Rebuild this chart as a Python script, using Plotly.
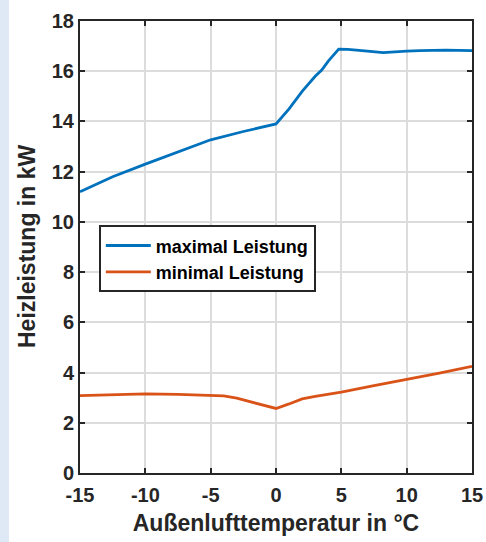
import plotly.graph_objects as go

# Data
temp_max = [-15, -12.5, -10, -7.5, -5, -2.5, 0, 1, 2, 3, 3.5, 4, 4.8, 5.5, 6, 7, 8.2, 9, 10, 11, 12, 13, 14, 15]
p_max = [11.2, 11.8, 12.3, 12.8, 13.27, 13.6, 13.9, 14.5, 15.2, 15.8, 16.05, 16.4, 16.88, 16.87, 16.84, 16.8, 16.74, 16.78, 16.8, 16.82, 16.84, 16.84, 16.83, 16.82]

temp_min = [-15, -12, -10, -7.5, -5, -4, -3, -2, -1, 0, 1, 2, 3, 5, 7.5, 10, 12.5, 15]
p_min = [3.08, 3.12, 3.15, 3.13, 3.1, 3.07, 2.98, 2.85, 2.72, 2.57, 2.75, 2.95, 3.05, 3.22, 3.48, 3.72, 3.98, 4.25]

x_ticks = [-15, -10, -5, 0, 5, 10, 15]
x_labels = ["-15", "-10", "-5", "0", "5", "10", "15"]
y_ticks = [0, 2, 4, 6, 8, 10, 12, 14, 16, 18]
y_labels = ["0", "2", "4", "6", "8", "10", "12", "14", "16", "18"]

series_names = ["maximal Leistung", "minimal Leistung"]
colors = ["#0072BD", "#D95319"]
x_title = "Außenlufttemperatur in °C"
y_title = "Heizleistung in kW"

fig = go.Figure()
fig.add_trace(go.Scatter(x=temp_max, y=p_max, mode="lines", name=f"<b>{series_names[0]}</b>",
                         line=dict(color=colors[0], width=2.8)))
fig.add_trace(go.Scatter(x=temp_min, y=p_min, mode="lines", name=f"<b>{series_names[1]}</b>",
                         line=dict(color=colors[1], width=2.8)))

font_family = "Liberation Sans, Arial, sans-serif"
axis_common = dict(
    automargin=False,
    showline=True, linecolor="#262626", linewidth=2, mirror="ticks",
    ticks="inside", ticklen=5, tickwidth=2, tickcolor="#262626",
    showgrid=True, gridcolor="#dcdcdc", gridwidth=1.5, zeroline=False,
    tickfont=dict(family=font_family, size=20, color="#262626"),
)

fig.update_layout(
    width=486, height=542, autosize=False,
    margin=dict(l=80, r=14, t=21, b=69),
    paper_bgcolor="white", plot_bgcolor="white",
    font=dict(family=font_family, color="#262626"),
    xaxis=dict(range=[-15, 15], tickvals=x_ticks, ticktext=[f"<b>{t}</b>" for t in x_labels],
               ticklabelstandoff=3,
               title=dict(text=f"<b>{x_title}</b>", font=dict(size=23), standoff=10),
               **axis_common),
    yaxis=dict(range=[0, 18], tickvals=y_ticks, ticktext=[f"<b>{t}</b>" for t in y_labels],
               **axis_common),
    legend=dict(x=0.048, y=0.548, xanchor="left", yanchor="top",
                bgcolor="white", bordercolor="#262626", borderwidth=2,
                font=dict(family=font_family, size=18, color="black"),
                itemwidth=45, tracegroupgap=0),
    showlegend=True,
    annotations=[dict(text=f"<b>{y_title}</b>", textangle=-90, xref="paper", yref="paper",
                      x=(27 - 80) / 392, y=0.5, xanchor="center", yanchor="middle",
                      showarrow=False, font=dict(family=font_family, size=23, color="#262626"))],
    shapes=[dict(type="rect", xref="paper", yref="paper",
                 x0=-80/392, x1=-71/392, y0=-69/452, y1=(452+21)/452,
                 fillcolor="#dfe9f5", line=dict(width=0), layer="below")],
)

fig.write_html(
    "out.html",
    config={"displayModeBar": False, "responsive": False},
    post_script="document.body.style.margin='0';document.body.style.overflow='hidden';"
                "document.documentElement.style.overflow='hidden';",
)
